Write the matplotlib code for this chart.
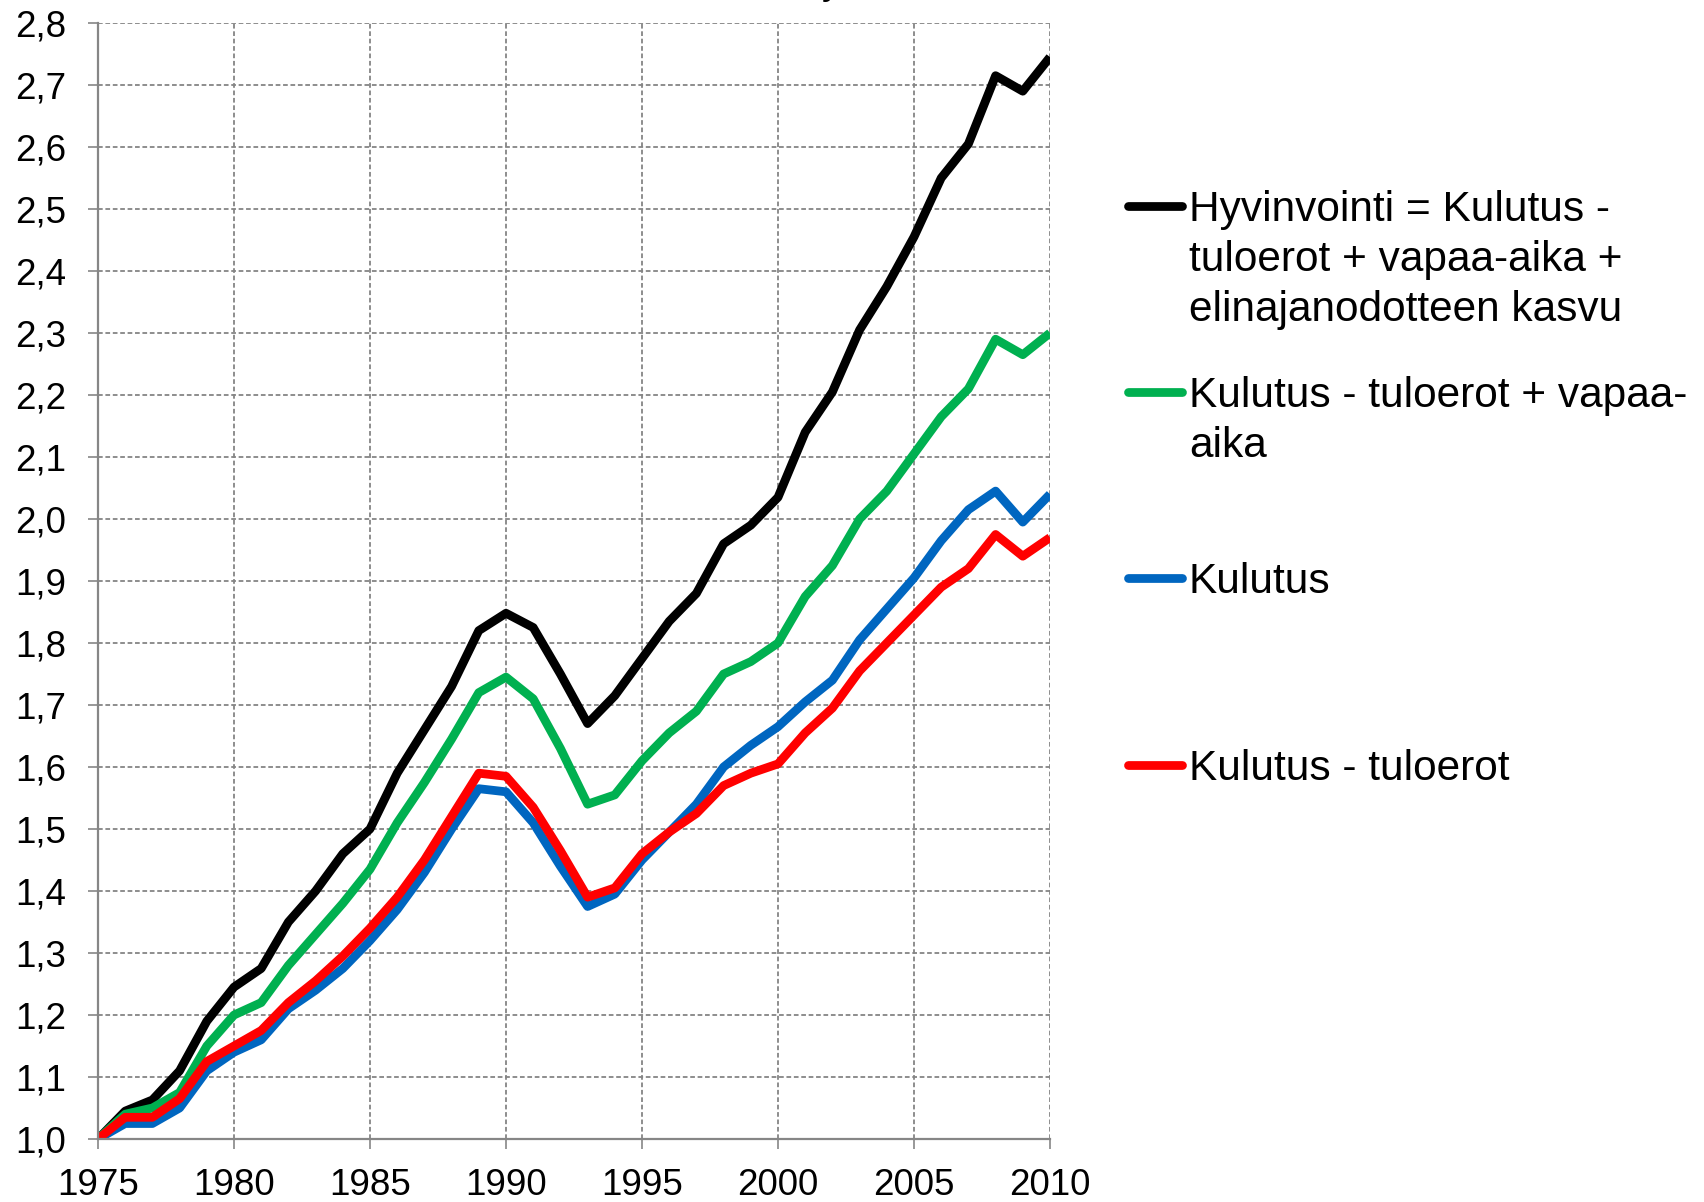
import matplotlib
matplotlib.use("Agg")
import matplotlib.pyplot as plt
from matplotlib.lines import Line2D
from matplotlib.ticker import FixedLocator

plt.rcParams['font.family'] = ['Liberation Sans', 'DejaVu Sans']

# ---------------- data ----------------
years = list(range(1975, 2011))

hyvinvointi = [1.000, 1.045, 1.063, 1.110, 1.190, 1.245, 1.275, 1.350, 1.400, 1.460,
               1.500, 1.590, 1.660, 1.730, 1.820, 1.848, 1.825, 1.750, 1.670, 1.715,
               1.775, 1.835, 1.880, 1.960, 1.990, 2.035, 2.140, 2.205, 2.305, 2.375,
               2.455, 2.550, 2.605, 2.715, 2.690, 2.745]

kulutus_tulo_vapaa = [1.000, 1.040, 1.050, 1.075, 1.150, 1.200, 1.220, 1.280, 1.330, 1.380,
                      1.435, 1.510, 1.575, 1.645, 1.720, 1.745, 1.710, 1.630, 1.540, 1.555,
                      1.610, 1.655, 1.690, 1.750, 1.770, 1.800, 1.875, 1.925, 2.000, 2.045,
                      2.105, 2.165, 2.210, 2.290, 2.265, 2.300]

kulutus = [1.000, 1.025, 1.025, 1.050, 1.110, 1.140, 1.160, 1.210, 1.240, 1.275,
           1.320, 1.370, 1.430, 1.500, 1.565, 1.560, 1.510, 1.440, 1.375, 1.395,
           1.450, 1.495, 1.540, 1.600, 1.635, 1.665, 1.705, 1.740, 1.805, 1.855,
           1.905, 1.965, 2.015, 2.045, 1.995, 2.040]

kulutus_tulo = [1.000, 1.035, 1.035, 1.065, 1.125, 1.150, 1.175, 1.220, 1.255, 1.295,
                1.340, 1.390, 1.450, 1.520, 1.590, 1.585, 1.535, 1.465, 1.390, 1.405,
                1.460, 1.495, 1.525, 1.570, 1.590, 1.605, 1.655, 1.695, 1.755, 1.800,
                1.845, 1.890, 1.920, 1.975, 1.940, 1.970]

series_labels = [
    "Hyvinvointi = Kulutus -\ntuloerot + vapaa-aika +\nelinajanodotteen kasvu",
    "Kulutus - tuloerot + vapaa-\naika",
    "Kulutus",
    "Kulutus - tuloerot",
]
series_colors = ["#000000", "#00B050", "#0066C0", "#FF0000"]

x_ticks = [1975, 1980, 1985, 1990, 1995, 2000, 2005, 2010]
x_tick_labels = ["1975", "1980", "1985", "1990", "1995", "2000", "2005", "2010"]
y_ticks = [1.0, 1.1, 1.2, 1.3, 1.4, 1.5, 1.6, 1.7, 1.8, 1.9,
           2.0, 2.1, 2.2, 2.3, 2.4, 2.5, 2.6, 2.7, 2.8]
y_tick_labels = ["1,0", "1,1", "1,2", "1,3", "1,4", "1,5", "1,6", "1,7", "1,8", "1,9",
                 "2,0", "2,1", "2,2", "2,3", "2,4", "2,5", "2,6", "2,7", "2,8"]

title_fragment = "y,"

# ---------------- figure ----------------
W, H = 1704, 1202
fig = plt.figure(figsize=(W / 100, H / 100), dpi=100)

def fx(px):
    return px / W

def fy(py):
    return 1 - py / H

ax_left, ax_right, ax_top, ax_bottom = 98, 1050, 23, 1139
ax = fig.add_axes([fx(ax_left), fy(ax_bottom), fx(ax_right - ax_left), (ax_bottom - ax_top) / H])

all_series = [hyvinvointi, kulutus_tulo_vapaa, kulutus, kulutus_tulo]
for vals, col, lab in zip(all_series, series_colors, series_labels):
    ax.plot(years, vals, color=col, lw=6.3, solid_joinstyle='round',
            solid_capstyle='butt', label=lab)

ax.set_xlim(1975, 2010)
ax.set_ylim(1.0, 2.8)
ax.xaxis.set_major_locator(FixedLocator(x_ticks))
ax.set_xticklabels(x_tick_labels)
ax.yaxis.set_major_locator(FixedLocator(y_ticks))
ax.set_yticklabels(y_tick_labels)

grid_col = "#858585"
ax.grid(True, which='major', color=grid_col, lw=1.3, linestyle=(0, (2.6, 1.5)))
ax.set_axisbelow(True)

for s in ['top', 'right']:
    ax.spines[s].set_visible(False)
for s in ['left', 'bottom']:
    ax.spines[s].set_color("#868686")
    ax.spines[s].set_linewidth(1.6)

ax.tick_params(axis='both', direction='out', length=7, width=1.2, color="#868686",
               labelsize=26.5, labelcolor='black')
ax.tick_params(axis='y', pad=16)
ax.tick_params(axis='x', pad=14)

# ---------------- legend (handles aligned with first text line) ----------------
handle_y = [206, 392, 578, 765]
leg_fs = 30.5
line_gap = 50
cap_half = 15
for hy, col, lab in zip(handle_y, series_colors, series_labels):
    fig.add_artist(Line2D([fx(1128), fx(1182)], [fy(hy), fy(hy)], color=col, lw=6.3,
                          solid_capstyle='round', transform=fig.transFigure))
    for i, line in enumerate(lab.split("\n")):
        fig.text(fx(1189), fy(hy + cap_half + i * line_gap), line, fontsize=leg_fs,
                 ha='left', va='baseline', color='black')

# clipped title fragment at the very top
fig.text(fx(822), fy(-6), title_fragment, fontsize=28, ha='left', va='baseline', color='black')

fig.savefig("out.png", dpi=100, facecolor='white')
